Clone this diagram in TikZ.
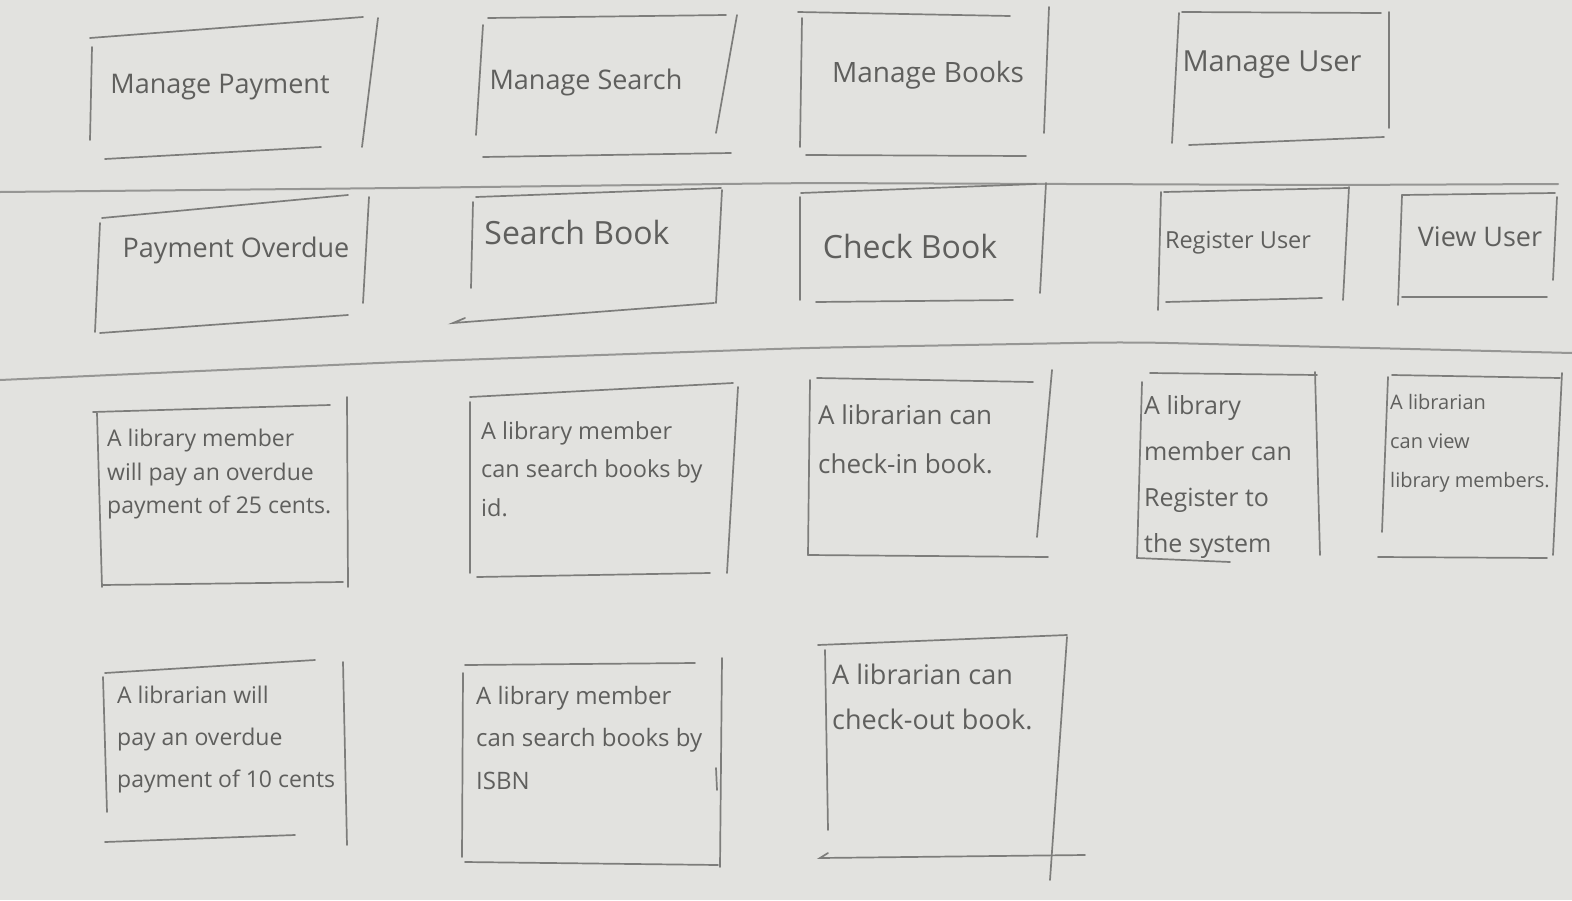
\documentclass[tikz,border=0pt]{standalone}
\usepackage{fontspec}
\setmainfont{Open Sans}
\definecolor{paper}{RGB}{226,226,223}
\definecolor{pencilgray}{RGB}{125,125,123}
\definecolor{rulegray}{RGB}{150,150,148}
\definecolor{inkgray}{RGB}{95,95,93}
\begin{document}
\begin{tikzpicture}[x=1pt,y=-1pt,
  pencil/.style={draw=pencilgray, line width=1.7pt, line cap=round},
  rule/.style={draw=rulegray, line width=2pt, line cap=round, rounded corners=40pt},
  title/.style={text=inkgray, font=\fontsize{27}{32}\selectfont, inner sep=0pt},
  story/.style={text=inkgray, anchor=north west, align=left, inner sep=0pt},
]
\fill[paper] (0,0) rectangle (1572,900);
\useasboundingbox (0,0) rectangle (1572,900);

% ---------- row separators ----------
\draw[rule] (0,192) -- (400,188) -- (802,183) -- (1333,185) -- (1558,184);
\draw[rule] (0,380) -- (400,362) -- (802,348) -- (1128,342) -- (1572,353);

% ---------- activities ----------
\node[title] (mpay) at (220,87) {Manage Payment};
\draw[pencil] (90,38) -- (363,17);  \draw[pencil] (92,47) -- (90,140);
\draw[pencil] (378,18) -- (362,147); \draw[pencil] (105,159) -- (321,147);

\node[title] (msearch) at (586,82) {Manage Search};
\draw[pencil] (488,18) -- (726,15);  \draw[pencil] (483,25) -- (476,135);
\draw[pencil] (737,15) -- (716,133); \draw[pencil] (483,157) -- (731,153);

\node[title, font=\fontsize{28}{32}\selectfont] (mbooks) at (928,75) {Manage Books};
\draw[pencil] (798,12) -- (1010,16);  \draw[pencil] (802,18) -- (800,147);
\draw[pencil] (1049,7) -- (1044,133); \draw[pencil] (806,155) -- (1026,156);

\node[title, font=\fontsize{29}{32}\selectfont] (muser) at (1272,65) {Manage User};
\draw[pencil] (1182,12) -- (1381,13);  \draw[pencil] (1179,13) -- (1172,143);
\draw[pencil] (1389,12) -- (1389,128); \draw[pencil] (1189,145) -- (1384,137);

% ---------- tasks ----------
\node[title] (payover) at (236,250) {Payment Overdue};
\draw[pencil] (102,218) -- (348,195); \draw[pencil] (100,223) -- (95,332);
\draw[pencil] (369,197) -- (363,303); \draw[pencil] (100,333) -- (348,315);

\node[title, font=\fontsize{32}{36}\selectfont] (sbook) at (577,232) {Search Book};
\draw[pencil] (476,197) -- (721,188); \draw[pencil] (473,202) -- (471,288);
\draw[pencil] (722,190) -- (716,303); \draw[pencil] (465,318) -- (453,323) -- (714,303);

\node[title, font=\fontsize{32}{36}\selectfont] (cbook) at (910,246) {Check Book};
\draw[pencil] (801,193) -- (1036,184); \draw[pencil] (800,197) -- (800,300);
\draw[pencil] (1046,183) -- (1040,293); \draw[pencil] (816,302) -- (1013,300);

\node[title, font=\fontsize{23.5}{26}\selectfont] (reguser) at (1238,243) {Register User};
\draw[pencil] (1164,192) -- (1348,188); \draw[pencil] (1161,192) -- (1158,310);
\draw[pencil] (1349,187) -- (1343,300); \draw[pencil] (1166,302) -- (1322,298);

\node[title, font=\fontsize{27}{30}\selectfont] (viewuser) at (1480,237) {View User};
\draw[pencil] (1402,195) -- (1555,193); \draw[pencil] (1402,195) -- (1398,305);
\draw[pencil] (1557,197) -- (1553,280); \draw[pencil] (1402,297) -- (1547,297);

% ---------- user stories ----------
\node[story, font=\fontsize{23}{33.5}\selectfont] (st1) at (107,429)
  {A library member\\will pay an overdue\\payment of 25 cents.};
\draw[pencil] (93,412) -- (330,405);  \draw[pencil] (97,413) -- (102,587);
\draw[pencil] (347,397) -- (348,587); \draw[pencil] (102,585) -- (343,582);

\node[story, font=\fontsize{23.5}{38.5}\selectfont] (st2) at (481,421)
  {A library member\\can search books by\\id.};
\draw[pencil] (470,397) -- (733,383); \draw[pencil] (470,402) -- (470,573);
\draw[pencil] (738,387) -- (727,573); \draw[pencil] (477,577) -- (710,573);

\node[story, font=\fontsize{26}{49}\selectfont] (st3) at (818,405)
  {A librarian can\\check-in book.};
\draw[pencil] (817,378) -- (1033,382); \draw[pencil] (810,380) -- (808,555);
\draw[pencil] (1052,370) -- (1037,537); \draw[pencil] (808,555) -- (1048,557);

\node[story, font=\fontsize{25}{46}\selectfont] (st4) at (1144,395)
  {A library\\member can\\Register to\\the system};
\draw[pencil] (1150,373) -- (1317,375); \draw[pencil] (1142,382) -- (1137,558);
\draw[pencil] (1315,372) -- (1320,555); \draw[pencil] (1137,558) -- (1230,562);

\node[story, font=\fontsize{20}{39}\selectfont] (st5) at (1390,394)
  {A librarian\\can view\\library members.};
\draw[pencil] (1392,375) -- (1560,378); \draw[pencil] (1388,377) -- (1382,532);
\draw[pencil] (1562,373) -- (1553,555); \draw[pencil] (1378,557) -- (1547,558);

\node[story, font=\fontsize{23}{42}\selectfont] (st6) at (117,686)
  {A librarian will\\pay an overdue\\payment of 10 cents};
\draw[pencil] (105,673) -- (315,660); \draw[pencil] (103,677) -- (107,812);
\draw[pencil] (343,662) -- (347,845); \draw[pencil] (105,842) -- (295,835);

\node[story, font=\fontsize{24}{42.5}\selectfont] (st7) at (476,686)
  {A library member\\can search books by\\ISBN};
\draw[pencil] (465,665) -- (695,663); \draw[pencil] (463,673) -- (462,857);
\draw[pencil] (722,658) -- (720,867); \draw[pencil] (465,862) -- (718,865);
\draw[pencil] (716,768) -- (717,790);

\node[story, font=\fontsize{27}{45}\selectfont] (st8) at (832,664)
  {A librarian can\\check-out book.};
\draw[pencil] (818,645) -- (1067,635); \draw[pencil] (825,650) -- (828,830);
\draw[pencil] (1067,637) -- (1050,880); \draw[pencil] (828,853) -- (820,858) -- (1085,855);
\end{tikzpicture}
\end{document}
